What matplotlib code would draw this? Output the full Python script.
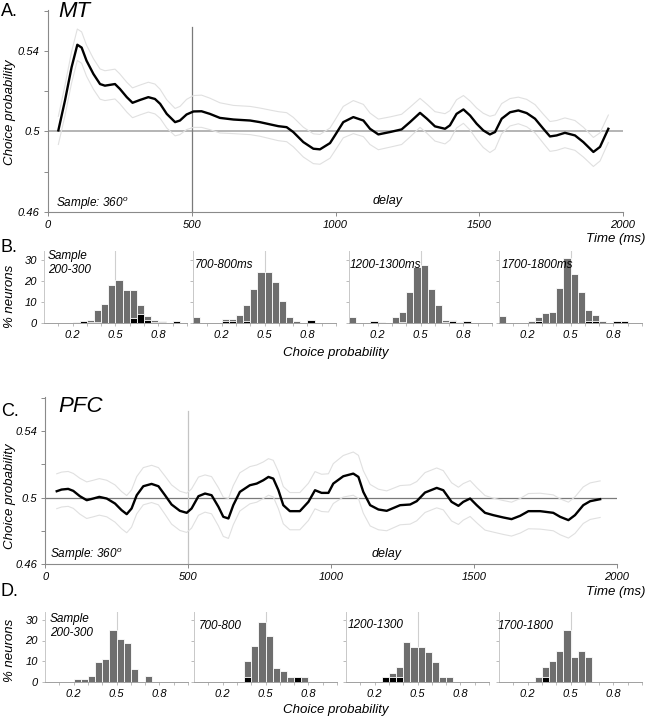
import matplotlib
matplotlib.use('Agg')
import matplotlib.pyplot as plt
import numpy as np

plt.rcParams['font.family'] = ['Liberation Sans', 'DejaVu Sans']
plt.rcParams['mathtext.fontset'] = 'custom'
plt.rcParams['mathtext.it'] = 'Liberation Sans:italic'
plt.rcParams['mathtext.rm'] = 'Liberation Sans'

# ---------------- data ----------------
mt_t = [36, 59, 82, 102, 117, 134, 158, 181, 198, 233,
        250, 274, 294, 320, 349, 372, 390, 413, 442, 459,
        482, 506, 534, 563, 598, 645, 703, 737, 772, 801,
        830, 853, 888, 923, 946, 981, 998, 1027, 1062, 1097,
        1120, 1149, 1190, 1230, 1259, 1294, 1318, 1346, 1381, 1398,
        1421, 1445, 1468, 1491, 1514, 1537, 1555, 1578, 1607, 1636,
        1665, 1694, 1723, 1746, 1769, 1798, 1833, 1862, 1897, 1920,
        1949]
mt_cp = [0.5005, 0.5153, 0.5318, 0.5430, 0.5416, 0.5351, 0.5285, 0.5235, 0.5227, 0.5235,
         0.5211, 0.5170, 0.5142, 0.5156, 0.5170, 0.5161, 0.5137, 0.5087, 0.5046, 0.5054,
         0.5084, 0.5099, 0.5100, 0.5087, 0.5067, 0.5059, 0.5054, 0.5046, 0.5035, 0.5026,
         0.5021, 0.4997, 0.4947, 0.4914, 0.4911, 0.4942, 0.4980, 0.5046, 0.5071, 0.5054,
         0.5013, 0.4985, 0.4997, 0.5010, 0.5046, 0.5092, 0.5063, 0.5025, 0.5013, 0.5030,
         0.5087, 0.5109, 0.5079, 0.5038, 0.5005, 0.4985, 0.4997, 0.5063, 0.5095, 0.5104,
         0.5091, 0.5063, 0.5013, 0.4975, 0.4980, 0.4993, 0.4980, 0.4947, 0.4898, 0.4923,
         0.5013]
mt_sem = [0.0070, 0.0075, 0.0078, 0.0078, 0.0078, 0.0077, 0.0076, 0.0075, 0.0074, 0.0074,
          0.0074, 0.0074, 0.0074, 0.0074, 0.0074, 0.0074, 0.0072, 0.0070, 0.0068, 0.0070,
          0.0075, 0.0079, 0.0080, 0.0078, 0.0075, 0.0070, 0.0070, 0.0070, 0.0071, 0.0072,
          0.0072, 0.0073, 0.0074, 0.0074, 0.0074, 0.0075, 0.0076, 0.0078, 0.0082, 0.0080,
          0.0078, 0.0076, 0.0075, 0.0075, 0.0074, 0.0072, 0.0072, 0.0073, 0.0075, 0.0073,
          0.0070, 0.0069, 0.0072, 0.0078, 0.0085, 0.0090, 0.0085, 0.0075, 0.0068, 0.0066,
          0.0068, 0.0070, 0.0072, 0.0074, 0.0074, 0.0074, 0.0074, 0.0074, 0.0072, 0.0070,
          0.0068]

pfc_t = [40, 57, 80, 98, 121, 145, 168, 189, 215, 244,
         267, 285, 302, 320, 343, 372, 396, 419, 442, 471,
         495, 512, 536, 559, 582, 606, 623, 641, 658, 681,
         716, 740, 763, 781, 798, 816, 833, 856, 891, 921,
         944, 967, 991, 1008, 1043, 1078, 1096, 1113, 1137, 1166,
         1195, 1242, 1277, 1300, 1329, 1370, 1393, 1422, 1446, 1463,
         1487, 1510, 1539, 1568, 1603, 1632, 1662, 1691, 1732, 1778,
         1802, 1831, 1854, 1883, 1907, 1942]
pfc_cp = [0.5038, 0.5048, 0.5052, 0.5040, 0.5008, 0.4984, 0.4994, 0.5004, 0.4994, 0.4964,
          0.4924, 0.4900, 0.4934, 0.5014, 0.5068, 0.5082, 0.5068, 0.5014, 0.4958, 0.4920,
          0.4908, 0.4934, 0.5008, 0.5024, 0.5014, 0.4944, 0.4884, 0.4874, 0.4954, 0.5034,
          0.5074, 0.5084, 0.5104, 0.5124, 0.5114, 0.5044, 0.4954, 0.4918, 0.4918, 0.4974,
          0.5044, 0.5028, 0.5028, 0.5084, 0.5128, 0.5144, 0.5124, 0.5034, 0.4954, 0.4928,
          0.4920, 0.4954, 0.4958, 0.4978, 0.5030, 0.5058, 0.5044, 0.4974, 0.4950, 0.4974,
          0.4994, 0.4954, 0.4908, 0.4894, 0.4880, 0.4870, 0.4890, 0.4918, 0.4918, 0.4908,
          0.4884, 0.4864, 0.4894, 0.4954, 0.4978, 0.4990]
pfc_sem = [0.0105, 0.0105, 0.0105, 0.0105, 0.0108, 0.0110, 0.0110, 0.0110, 0.0110, 0.0112,
           0.0112, 0.0112, 0.0112, 0.0112, 0.0112, 0.0112, 0.0112, 0.0115, 0.0118, 0.0118,
           0.0118, 0.0118, 0.0115, 0.0112, 0.0112, 0.0115, 0.0118, 0.0120, 0.0118, 0.0115,
           0.0112, 0.0112, 0.0110, 0.0110, 0.0110, 0.0112, 0.0112, 0.0112, 0.0112, 0.0112,
           0.0112, 0.0112, 0.0115, 0.0120, 0.0125, 0.0130, 0.0130, 0.0128, 0.0125, 0.0122,
           0.0120, 0.0118, 0.0118, 0.0118, 0.0120, 0.0120, 0.0118, 0.0115, 0.0112, 0.0110,
           0.0108, 0.0106, 0.0104, 0.0102, 0.0102, 0.0102, 0.0104, 0.0106, 0.0108, 0.0108,
           0.0108, 0.0108, 0.0110, 0.0110, 0.0110, 0.0110]

sample_end = 500

# histogram bins (left edges of choice-probability bins)
cp_bins = [0.00, 0.05, 0.10, 0.15, 0.20, 0.25, 0.30, 0.35, 0.40, 0.45,
           0.50, 0.55, 0.60, 0.65, 0.70, 0.75, 0.80, 0.85, 0.90, 0.95]

mt_labels = ['Sample\n200-300', '700-800ms', '1200-1300ms', '1700-1800ms']
mt_total = [
    [0, 0, 0, 0, 0.6, 1.1, 1.6, 6.0, 9.0, 17.9, 20.2, 15.5, 15.5, 8.5, 3.2, 1.6, 1.1, 0, 0.9, 0],
    [3.0, 0, 0, 0, 2.0, 2.0, 3.9, 8.5, 16.0, 24.0, 24.0, 19.2, 10.3, 3.0, 1.1, 0, 1.5, 0, 0, 0],
    [2.7, 0, 0, 0.8, 0.5, 0, 2.7, 5.0, 14.8, 26.4, 27.5, 16.1, 8.5, 1.4, 1.4, 0.6, 0.9, 0, 0, 0],
    [3.2, 0, 0, 0, 1.1, 2.7, 4.7, 5.4, 16.4, 30.6, 23.2, 14.5, 6.3, 3.8, 1.1, 0, 0.8, 0.8, 0, 0],
]
mt_signif = [
    [0, 0, 0, 0, 0, 0.8, 0.3, 0.6, 0, 0, 0, 0, 2.2, 4.4, 1.3, 0.6, 0.5, 0, 0.9, 0],
    [0, 0, 0, 0, 1.0, 1.0, 0, 0.8, 0, 0, 0, 0, 0, 0, 0, 0, 1.2, 0, 0, 0],
    [0, 0, 0, 0.8, 0, 0, 0, 0.3, 0, 0, 0, 0, 0, 0.3, 1.1, 0, 0.9, 0, 0, 0],
    [0, 0, 0, 0, 0, 1.0, 0, 0, 0, 0, 0, 0, 1.1, 1.1, 0, 0, 0.8, 0.8, 0, 0],
]
pfc_labels = ['Sample\n200-300', '700-800', '1200-1300', '1700-1800']
pfc_total = [
    [0, 0, 0, 0, 1.3, 1.3, 2.9, 9.4, 10.8, 25.1, 20.5, 18.8, 6.1, 0, 2.9, 0, 0, 0, 0, 0],
    [0, 0, 0, 0, 0, 0, 0, 9.9, 17.2, 29.0, 22.0, 6.8, 5.0, 2.3, 2.3, 2.3, 0, 0, 0, 0],
    [0, 0, 0, 0, 0, 2.1, 4.4, 7.1, 19.5, 17.0, 17.0, 14.3, 9.5, 2.4, 2.4, 0, 0, 0, 0, 0],
    [0, 0, 0, 0, 0, 2.4, 7.3, 9.9, 14.7, 25.1, 12.1, 14.7, 12.1, 0, 0, 0, 0, 0, 0, 0],
]
pfc_signif = [
    [0] * 20,
    [0, 0, 0, 0, 0, 0, 0, 2.3, 0, 0, 0, 0, 0, 0, 2.3, 0, 0, 0, 0, 0],
    [0, 0, 0, 0, 0, 2.1, 2.1, 2.1, 0, 0, 0, 0, 0, 0, 0, 0, 0, 0, 0, 0],
    [0, 0, 0, 0, 0, 0, 2.1, 0, 0, 0, 0, 0, 0, 0, 0, 0, 0, 0, 0, 0],
]

# ---------------- figure ----------------
W, H = 647, 720
fig = plt.figure(figsize=(W / 100, H / 100), dpi=100)


def fx(px):
    return px / W


def fy(py):
    return 1 - py / H


AX_GREY = '#8a8a8a'


def main_panel(left, right, bottom, top, t, cp, sem, hcol, hlw, vcol):
    ax = fig.add_axes([fx(left), fy(bottom), (right - left) / W, (bottom - top) / H])
    t = np.asarray(t)
    cp = np.asarray(cp)
    sem = np.asarray(sem)
    ylim = (0.46, 0.5605)
    ax.set_xlim(0, 2000)
    ax.set_ylim(*ylim)
    ax.axhline(0.5, color=hcol, lw=hlw, zorder=1)
    ax.axvline(sample_end, ymin=0, ymax=(0.552 - ylim[0]) / (ylim[1] - ylim[0]),
               color=vcol, lw=0.9, zorder=1)
    ax.plot(t, cp + sem, color='#e0e0e0', lw=0.8, zorder=2)
    ax.plot(t, cp - sem, color='#e0e0e0', lw=0.8, zorder=2)
    ax.plot(t, cp, color='black', lw=1.7, zorder=3, solid_joinstyle='round')
    for s in ['top', 'right']:
        ax.spines[s].set_visible(False)
    for s in ['left', 'bottom']:
        ax.spines[s].set_color(AX_GREY)
        ax.spines[s].set_linewidth(0.8)
    ax.set_yticks([0.46, 0.48, 0.50, 0.52, 0.54, 0.56])
    ax.set_yticklabels(['0.46', '', '0.5', '', '0.54', ''])
    ax.set_xticks([0, 500, 1000, 1500, 2000])
    ax.set_xticklabels(['0', '500', '1000', '1500', '2000'])
    ax.tick_params(direction='out', length=3, width=0.7, color=AX_GREY,
                   labelsize=8, pad=3)
    for lbl in ax.get_xticklabels() + ax.get_yticklabels():
        lbl.set_fontstyle('italic')
    return ax


def hist_panel(left, base, scale, total, signif, label, show_y, label_pos):
    ax = fig.add_axes([fx(left), fy(base), 143 / W, 34 * scale / H])
    ax.bar(cp_bins, total, width=0.05, align='edge', color='#6e6e6e',
           edgecolor='white', linewidth=0.6, zorder=2)
    ax.bar(cp_bins, signif, width=0.05, align='edge', color='black',
           edgecolor='white', linewidth=0.6, zorder=3)
    ax.axvline(0.5, color='#cfcfcf', lw=0.8, zorder=1)
    ax.set_xlim(0, 1.0)
    ax.set_ylim(0, 34)
    for s in ['top', 'right']:
        ax.spines[s].set_visible(False)
    ax.spines['left'].set_color('#c8c8c8')
    ax.spines['bottom'].set_color('#a0a0a0')
    ax.spines['left'].set_linewidth(0.7)
    ax.spines['bottom'].set_linewidth(0.7)
    ax.set_xticks([0.2, 0.5, 0.8])
    ax.set_xticklabels(['0.2', '0.5', '0.8'])
    ax.set_xticks([0.1, 0.3, 0.4, 0.6, 0.7, 0.9, 1.0], minor=True)
    ax.set_yticks([0, 10, 20, 30])
    if show_y:
        ax.set_yticklabels(['0', '10', '20', '30'])
    else:
        ax.set_yticklabels([])
    ax.tick_params(which='both', direction='out', length=2, width=0.6,
                   color='#b0b0b0', labelsize=8, pad=3)
    for lbl in ax.get_xticklabels() + ax.get_yticklabels():
        lbl.set_fontstyle('italic')
    fig.text(fx(label_pos[0]), fy(label_pos[1]), label, fontsize=8.5,
             style='italic', ha='left', va='top', linespacing=1.25)
    return ax


# Panel A (MT)
main_panel(48, 623, 212, 9.5, mt_t, mt_cp, mt_sem, '#b4b4b4', 1.4, '#7a7a7a')
fig.text(fx(1), fy(12), 'A.', fontsize=13, ha='left', va='center')
fig.text(fx(58), fy(1), 'MT', fontsize=16, style='italic', ha='left', va='top')
fig.text(fx(56), fy(204), 'Sample: 360$^{o}$', fontsize=8.5, style='italic',
         ha='left', va='center')
fig.text(fx(373), fy(201), 'delay', fontsize=9, style='italic', ha='left', va='center')
fig.text(fx(645), fy(239), 'Time (ms)', fontsize=9.5, style='italic', ha='right', va='center')
fig.text(fx(10), fy(112), 'Choice probability', fontsize=9.5, style='italic',
         rotation=90, ha='center', va='center')

# Panel B (MT histograms)
b_lefts = [44, 193, 349, 499]
b_label_pos = [(48, 250), (195, 259), (350, 259), (502, 259)]
for i in range(4):
    hist_panel(b_lefts[i], 323, 2.11, mt_total[i], mt_signif[i], mt_labels[i],
               i == 0, b_label_pos[i])
fig.text(fx(1), fy(247), 'B.', fontsize=13, ha='left', va='center')
fig.text(fx(10), fy(296), '% neurons', fontsize=9.5, style='italic',
         rotation=90, ha='center', va='center')
fig.text(fx(336), fy(353), 'Choice probability', fontsize=9.5, style='italic',
         ha='center', va='center')

# Panel C (PFC)
main_panel(45.3, 616.7, 564, 397, pfc_t, pfc_cp, pfc_sem, '#7a7a7a', 0.9, '#c4c4c4')
fig.text(fx(1), fy(411), 'C.', fontsize=13, ha='left', va='center')
fig.text(fx(58), fy(396), 'PFC', fontsize=16, style='italic', ha='left', va='top')
fig.text(fx(50), fy(555), 'Sample: 360$^{o}$', fontsize=8.5, style='italic',
         ha='left', va='center')
fig.text(fx(372), fy(554), 'delay', fontsize=9, style='italic', ha='left', va='center')
fig.text(fx(645), fy(592), 'Time (ms)', fontsize=9.5, style='italic', ha='right', va='center')
fig.text(fx(10), fy(496), 'Choice probability', fontsize=9.5, style='italic',
         rotation=90, ha='center', va='center')

# Panel D (PFC histograms)
d_lefts = [45, 194, 346, 499]
d_label_pos = [(50, 613), (199, 620), (348, 619), (498, 620)]
for i in range(4):
    hist_panel(d_lefts[i], 681.7, 2.06, pfc_total[i], pfc_signif[i], pfc_labels[i],
               i == 0, d_label_pos[i])
fig.text(fx(1), fy(591), 'D.', fontsize=13, ha='left', va='center')
fig.text(fx(10), fy(650), '% neurons', fontsize=9.5, style='italic',
         rotation=90, ha='center', va='center')
fig.text(fx(336), fy(710), 'Choice probability', fontsize=9.5, style='italic',
         ha='center', va='center')

fig.savefig('out.png', dpi=100, facecolor='white')
